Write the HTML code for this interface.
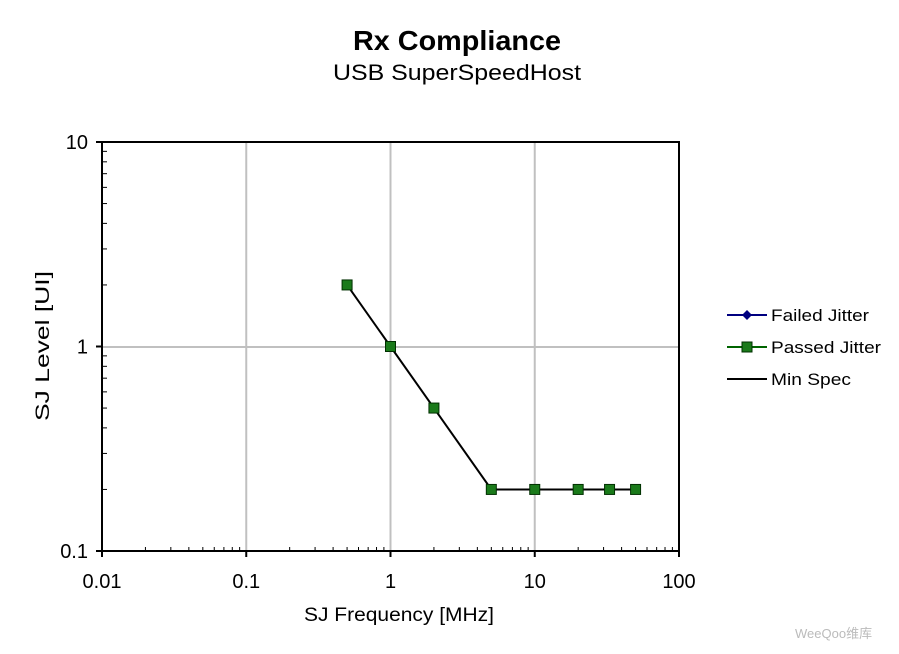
<!DOCTYPE html>
<html><head><meta charset="utf-8"><style>
html,body{margin:0;padding:0;background:#fff;width:899px;height:654px;overflow:hidden}
svg{display:block;font-family:"Liberation Sans",Arial,sans-serif}
</style></head><body>
<svg id="s" width="899" height="654" viewBox="0 0 899 654">
<text x="457" y="50" text-anchor="middle" font-size="28" font-weight="bold" textLength="208" lengthAdjust="spacingAndGlyphs">Rx Compliance</text>
<text x="457" y="80" text-anchor="middle" font-size="22" textLength="248" lengthAdjust="spacingAndGlyphs">USB SuperSpeedHost</text>
<g id="g"></g>
<text x="399" y="621" text-anchor="middle" font-size="19" textLength="190" lengthAdjust="spacingAndGlyphs">SJ Frequency [MHz]</text>
<text transform="translate(49,346) rotate(-90)" text-anchor="middle" font-size="19" textLength="150" lengthAdjust="spacingAndGlyphs">SJ Level  [UI]</text>
<line x1="727" y1="315" x2="767" y2="315" stroke="#000080" stroke-width="2"/>
<polygon points="747,310 752,315 747,320 742,315" fill="#000080"/>
<text x="771" y="321" font-size="17" textLength="98" lengthAdjust="spacingAndGlyphs">Failed Jitter</text>
<line x1="727" y1="347" x2="767" y2="347" stroke="#006400" stroke-width="2"/>
<rect x="742" y="342" width="10" height="10" fill="#1a7a1a" stroke="#003000"/>
<text x="771" y="353" font-size="17" textLength="110" lengthAdjust="spacingAndGlyphs">Passed Jitter</text>
<line x1="727" y1="379" x2="767" y2="379" stroke="#000" stroke-width="2"/>
<text x="771" y="385" font-size="17" textLength="80" lengthAdjust="spacingAndGlyphs">Min Spec</text>
<text x="795" y="638" font-size="13" fill="#bbb">WeeQoo维库</text>
</svg>
<script>
var X0=102,XD=144.25,Y0=551,YD=204.5,h='';
function X(v){return X0+(Math.log10(v)+2)*XD}
function Y(v){return Y0-(Math.log10(v)+1)*YD}
for(var i=1;i<4;i++)h+='<line x1="'+(X0+i*XD)+'" y1="142" x2="'+(X0+i*XD)+'" y2="551" stroke="#c0c0c0" stroke-width="2"/>';
h+='<line x1="102" y1="347" x2="679" y2="347" stroke="#c0c0c0" stroke-width="2"/>';
for(var d=0;d<4;d++)for(var k=2;k<10;k++){var x=X(Math.pow(10,d-2)*k);h+='<line x1="'+x+'" y1="551" x2="'+x+'" y2="547" stroke="#000"/>';}
for(var d=0;d<2;d++)for(var k=2;k<10;k++){var y=Y(Math.pow(10,d-1)*k);h+='<line x1="102" y1="'+y+'" x2="107" y2="'+y+'" stroke="#000"/>';}
h+='<rect x="102" y="142" width="577" height="409" fill="none" stroke="#000" stroke-width="2"/>';
var xl=['0.01','0.1','1','10','100'];
for(var i=0;i<5;i++){var x=X0+i*XD;h+='<line x1="'+x+'" y1="551" x2="'+x+'" y2="557" stroke="#000" stroke-width="2"/><text x="'+x+'" y="588" text-anchor="middle" font-size="20">'+xl[i]+'</text>';}
var yl=['0.1','1','10'];
for(var i=0;i<3;i++){var y=Y0-i*YD;h+='<line x1="96" y1="'+y+'" x2="102" y2="'+y+'" stroke="#000" stroke-width="2"/><text x="88" y="'+(y+7)+'" text-anchor="end" font-size="20">'+yl[i]+'</text>';}
var pts=[[0.5,2],[1,1],[2,0.5],[5,0.2],[10,0.2],[20,0.2],[33,0.2],[50,0.2]];
var p=pts.map(function(a){return X(a[0])+','+Y(a[1])}).join(' ');
h+='<polyline points="'+p+'" fill="none" stroke="#000" stroke-width="2"/>';
pts.forEach(function(a){h+='<rect x="'+(X(a[0])-5)+'" y="'+(Y(a[1])-5)+'" width="10" height="10" fill="#1a7a1a" stroke="#003000"/>';});
document.getElementById('g').innerHTML=h;
</script>
</body></html>
